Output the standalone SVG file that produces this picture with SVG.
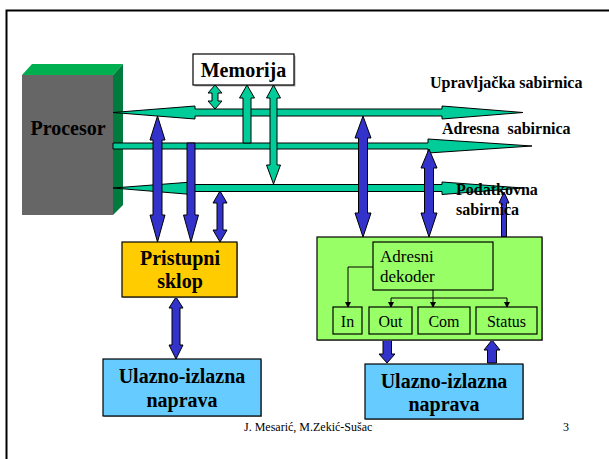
<svg xmlns="http://www.w3.org/2000/svg" width="609" height="459" viewBox="0 0 609 459">
<style>
.bus{fill:#00cc99;stroke:#000;stroke-width:1}
.blue{fill:#3333cc;stroke:#000;stroke-width:1}
.box{stroke:#000;stroke-width:1.2}
.sh{fill:#aaa}
.tb{font-family:"Liberation Serif","Times New Roman",serif;font-weight:bold;fill:#000}
.tr{font-family:"Liberation Serif","Times New Roman",serif;fill:#000}
.ln{fill:none;stroke:#000;stroke-width:1}
</style>
<defs>
<marker id="ah" markerWidth="6" markerHeight="6" refX="5" refY="3" orient="auto" markerUnits="userSpaceOnUse">
<path d="M0,0 L6,3 L0,6 Z" fill="#000"/>
</marker>
</defs>
<rect width="609" height="459" fill="#fff"/>
<path d="M6.5,459 V10.5 H609" fill="none" stroke="#000" stroke-width="2"/>

<g id="procesor">
<polygon points="22,75 32,64 123,64 113,75" fill="#00b050"/>
<polygon points="113,75 123,64 123,205 113,215" fill="#007a3d"/>
<rect x="22" y="75" width="91" height="140" fill="#666666"/>
<text class="tb" x="68" y="135" font-size="20" text-anchor="middle">Procesor</text>
</g>

<g id="memorija">
<rect class="sh" x="194.5" y="55.5" width="101" height="31"/>
<rect class="box" x="193" y="54" width="101" height="31" fill="#fff" stroke-width="1.6"/>
<text class="tb" x="243.5" y="77" font-size="20" text-anchor="middle">Memorija</text>
</g>

<g id="connectors">
<polygon class="bus" points="113,112.5 195,106 195,109 442,109 442,106 523,112.5 442,119 442,116 195,116 195,119"/>
<polygon class="bus" points="113,143 428,143 428,139 532,146 428,153 428,149 113,149"/>
<polygon class="bus" points="113,188 192,182 192,184.5 442,184.5 442,182 523,188 442,194.5 442,191.5 192,191.5 192,194.5"/>

<polygon class="bus" points="215,85 222,93 218,93 218,101 222,101 215,109 208,101 212,101 212,93 208,93"/>
<polygon class="bus" points="247,85 254.5,98 251,98 251,143 243,143 243,98 239.5,98"/>
<polygon class="bus" points="273.5,85 280.5,98 277,98 277,165 280.5,165 273.5,184 266.5,165 270,165 270,98 266.5,98"/>

<polygon class="blue" points="157.5,116 165,140 162,140 162,215 165,215 157.5,242 150,215 153,215 153,140 150,140"/>
<polygon class="blue" points="187,143 195,143 195,215 198.5,215 191,242 183.5,215 187,215"/>
<polygon class="blue" points="220,191 227,203 223,203 223,230 227,230 220,242 213,230 217,230 217,203 213,203"/>
<polygon class="blue" points="176,297 183,308 180,308 180,345 183,345 176,359 169,345 172,345 172,308 169,308"/>

<polygon class="blue" points="363,116 371,138 367.5,138 367.5,213 371,213 363,237 355,213 358.5,213 358.5,138 355,138"/>
<polygon class="blue" points="429,149 437,168 433.5,168 433.5,213 437,213 429,237 421,213 424.5,213 424.5,168 421,168"/>
<polygon class="blue" points="504,192 509,203 506.5,203 506.5,237 501.5,237 501.5,203 499,203"/>

<polygon class="blue" points="383,340 391.5,340 391.5,354 395,354 387,363 379,354 383,354"/>
<polygon class="blue" points="492,340 500,350 496.5,350 496.5,363 487.5,363 487.5,350 484,350"/>
</g>

<g id="pristupni">
<rect class="sh" x="123" y="243" width="115" height="55"/>
<rect class="box" x="122" y="242" width="115" height="55" fill="#ffcc00"/>
<text class="tb" x="180" y="265" font-size="20" text-anchor="middle">Pristupni</text>
<text class="tb" x="180" y="288" font-size="20" text-anchor="middle">sklop</text>
</g>

<g id="uio-left">
<rect class="sh" x="104" y="360" width="158" height="57"/>
<rect class="box" x="103" y="359" width="158" height="57" fill="#66ccff"/>
<text class="tb" x="182" y="383" font-size="20" text-anchor="middle">Ulazno-izlazna</text>
<text class="tb" x="182" y="407" font-size="20" text-anchor="middle">naprava</text>
</g>

<g id="sucelje">
<rect class="sh" x="318" y="238" width="225" height="103"/>
<rect class="box" x="317" y="237" width="225" height="103" fill="#99ff66"/>
<g id="dekoder">
<rect class="box" x="373" y="242" width="120" height="48" fill="#99ff66"/>
<text class="tr" x="380" y="262" font-size="17">Adresni</text>
<text class="tr" x="380" y="282" font-size="17">dekoder</text>
</g>
<path class="ln" d="M373,267 H348 V307" marker-end="url(#ah)"/>
<path class="ln" d="M433,290 V298"/>
<path class="ln" d="M391,298 H507"/>
<path class="ln" d="M391,298 V307" marker-end="url(#ah)"/>
<path class="ln" d="M433,298 V307" marker-end="url(#ah)"/>
<path class="ln" d="M507,298 V307" marker-end="url(#ah)"/>
<g id="in"><rect class="box" x="333" y="307" width="29" height="27" fill="#99ff66"/><text class="tr" x="347.5" y="327" font-size="16" text-anchor="middle">In</text></g>
<g id="out"><rect class="box" x="369" y="307" width="43" height="27" fill="#99ff66"/><text class="tr" x="390.5" y="327" font-size="16" text-anchor="middle">Out</text></g>
<g id="com"><rect class="box" x="418" y="307" width="52" height="27" fill="#99ff66"/><text class="tr" x="444" y="327" font-size="16" text-anchor="middle">Com</text></g>
<g id="status"><rect class="box" x="476" y="307" width="61" height="27" fill="#99ff66"/><text class="tr" x="506.5" y="327" font-size="16" text-anchor="middle">Status</text></g>
</g>

<g id="uio-right">
<rect class="sh" x="366" y="365" width="158" height="55"/>
<rect class="box" x="365" y="364" width="158" height="55" fill="#66ccff"/>
<text class="tb" x="444" y="388" font-size="20" text-anchor="middle">Ulazno-izlazna</text>
<text class="tb" x="444" y="411" font-size="20" text-anchor="middle">naprava</text>
</g>

<g id="labels">
<text class="tb" x="430" y="88" font-size="16">Upravljačka sabirnica</text>
<text class="tb" x="442" y="134" font-size="16" xml:space="preserve">Adresna  sabirnica</text>
<text class="tb" x="456" y="195" font-size="16">Podatkovna</text>
<text class="tb" x="456" y="215" font-size="16">sabirnica</text>
</g>

<g id="footer">
<text class="tr" x="244" y="431" font-size="12">J. Mesarić, M.Zekić-Sušac</text>
<text class="tr" x="563" y="431" font-size="12">3</text>
</g>
</svg>
